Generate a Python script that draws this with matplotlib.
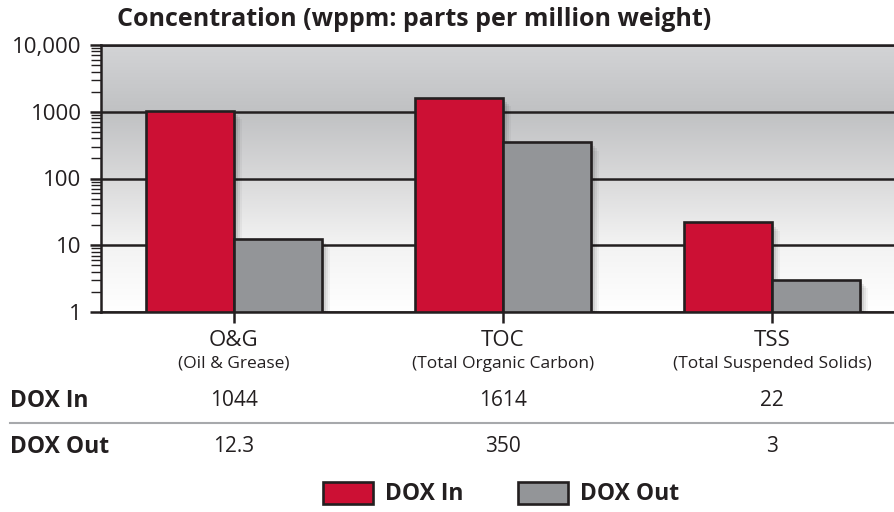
import numpy as np
import matplotlib
matplotlib.use("Agg")
import matplotlib.pyplot as plt
import matplotlib.patheffects as pe
from matplotlib import transforms
from matplotlib.patches import Rectangle
from matplotlib.lines import Line2D
from matplotlib.colors import LinearSegmentedColormap
from matplotlib.ticker import NullFormatter

plt.rcParams["font.family"] = ["Open Sans", "DejaVu Sans"]

## Data
categories = ["O&G", "TOC", "TSS"]
subtitles = ["(Oil & Grease)", "(Total Organic Carbon)", "(Total Suspended Solids)"]
dox_in = [1044, 1614, 22]
dox_out = [12.3, 350, 3]
dox_in_labels = ["1044", "1614", "22"]
dox_out_labels = ["12.3", "350", "3"]
ytick_values = [1, 10, 100, 1000, 10000]
ytick_labels = ["1", "10", "100", "1000", "10,000"]

RED = "#cc1034"
GRAY = "#939598"
INK = "#231f20"

W, H = 895, 512
fig = plt.figure(figsize=(W / 100, H / 100), dpi=100)

def px(x, y):
    # pixel position (from top-left) -> figure fraction
    return x / W, 1 - y / H

left, top = px(101, 45)
_, bottom = px(0, 312)
rect = [left, bottom, 1.0 - left, top - bottom]

# background gradient in its own axes behind the chart
bg = fig.add_axes(rect, zorder=0)
cmap = LinearSegmentedColormap.from_list(
    "bg", [(0.0, "#ffffff"), (0.25, "#f3f3f3"), (0.5, "#d9d9da"),
           (0.75, "#c0c1c3"), (1.0, "#d3d4d6")])
grad = np.linspace(0, 1, 256).reshape(-1, 1)
bg.imshow(grad, cmap=cmap, aspect="auto", origin="lower", extent=[0, 1, 0, 1])
bg.axis("off")

ax = fig.add_axes(rect, zorder=1)
ax.set_facecolor("none")

x = np.arange(len(categories))
width = 0.327

shadow = [
    pe.SimplePatchShadow(offset=(1.5, -1.5), shadow_rgbFace="k", alpha=0.10),
    pe.SimplePatchShadow(offset=(3, -3), shadow_rgbFace="k", alpha=0.08),
    pe.SimplePatchShadow(offset=(4.5, -4.5), shadow_rgbFace="k", alpha=0.06),
    pe.SimplePatchShadow(offset=(6, -6), shadow_rgbFace="k", alpha=0.04),
    pe.Normal(),
]

ax.bar(x - width / 2, np.array(dox_in) - 1, width, bottom=1, color=RED,
       edgecolor=INK, linewidth=1.9, zorder=3, path_effects=shadow)
ax.bar(x + width / 2, np.array(dox_out) - 1, width, bottom=1, color=GRAY,
       edgecolor=INK, linewidth=1.9, zorder=3, path_effects=shadow)

ax.set_yscale("log")
ax.set_ylim(1, 10000)
ax.set_xlim(-0.494, 2.457)

ax.set_yticks(ytick_values)
ax.set_yticklabels(ytick_labels)
ax.yaxis.set_minor_formatter(NullFormatter())
ax.tick_params(axis="y", which="major", length=8, width=1.8, color=INK,
               labelsize=16, labelcolor=INK, pad=6)
ax.tick_params(axis="y", which="minor", length=7.5, width=1.0, color=INK)

ax.set_xticks(x)
ax.set_xticklabels([])
ax.tick_params(axis="x", which="major", length=8, width=1.8, color=INK)
ax.tick_params(axis="x", which="minor", length=0)

ax.yaxis.grid(True, which="major", color=INK, linewidth=1.8)
ax.set_axisbelow(True)

for s in ["left", "bottom", "top"]:
    ax.spines[s].set_color(INK)
    ax.spines[s].set_linewidth(1.8)
ax.spines["right"].set_visible(False)

# title
tx, ty = px(117, 19)
fig.text(tx, ty, "Concentration (wppm: parts per million weight)", fontsize=18,
         fontweight="bold", color=INK, ha="left", va="center")

# category labels and table, x follows the data, y in figure space
blend = transforms.blended_transform_factory(ax.transData, fig.transFigure)
for i in range(len(categories)):
    fig.text(x[i], px(0, 341)[1], categories[i], transform=blend, fontsize=16,
             color=INK, ha="center", va="center")
    fig.text(x[i], px(0, 364)[1], subtitles[i], transform=blend, fontsize=12.5,
             color=INK, ha="center", va="center")
    fig.text(x[i], px(0, 401)[1], dox_in_labels[i], transform=blend, fontsize=15,
             color=INK, ha="center", va="center")
    fig.text(x[i], px(0, 447)[1], dox_out_labels[i], transform=blend, fontsize=15,
             color=INK, ha="center", va="center")

fig.text(*px(10, 401), "DOX In", fontsize=16.5, fontweight="bold", color=INK,
         ha="left", va="center")
fig.text(*px(10, 447), "DOX Out", fontsize=16.5, fontweight="bold", color=INK,
         ha="left", va="center")
fig.add_artist(Line2D([10 / W, 1.0], [px(0, 423)[1]] * 2, transform=fig.transFigure,
                      color="#a7a9ac", linewidth=1.5))

# legend
for x0, color, label in [(323, RED, "DOX In"), (518, GRAY, "DOX Out")]:
    lx, ly = px(x0, 504)
    fig.add_artist(Rectangle((lx, ly), 50 / W, 22 / H, transform=fig.transFigure,
                             facecolor=color, edgecolor=INK, linewidth=1.9))
    fig.text(*px(x0 + 62, 494), label, fontsize=16.5, fontweight="bold", color=INK,
             ha="left", va="center")

fig.savefig("out.png", dpi=100)
